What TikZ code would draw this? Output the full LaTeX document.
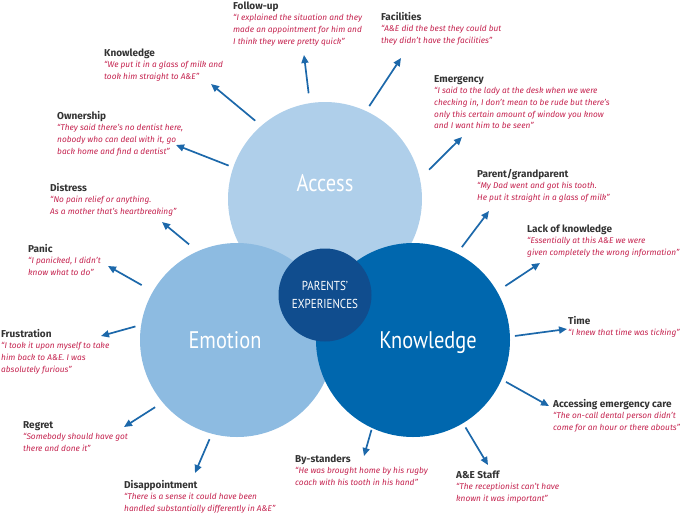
\documentclass[tikz,border=0pt]{standalone}
\usepackage{fontspec}
\setmainfont{Fira Sans}
\newfontfamily\condfont[FakeStretch=0.85]{PT Sans}
\usepackage{xcolor}
\usetikzlibrary{arrows.meta}
\definecolor{accblue}{RGB}{175,207,234}
\definecolor{emoblue}{RGB}{141,187,225}
\definecolor{knoblue}{RGB}{0,103,174}
\definecolor{coreblue}{RGB}{16,77,142}
\definecolor{arrowblue}{RGB}{28,104,170}
\definecolor{ttlgray}{RGB}{51,51,51}
\definecolor{qtred}{RGB}{196,34,78}
\newcommand{\quotetitle}[1]{{\upshape\bfseries\fontsize{10}{11.6}\selectfont\color{ttlgray}\rule{0pt}{8pt}#1}}

\begin{document}
\begin{tikzpicture}[x=1pt, y=-1pt,
  main/.style = {circle, minimum size=194pt, inner sep=0, outer sep=0},
  big/.style = {anchor=base, text=white, font=\condfont\fontsize{24}{26}\selectfont},
  core/.style = {circle, fill=coreblue, minimum size=93pt, inner sep=0, outer sep=0, text=white, align=center, font=\condfont\fontsize{13}{18}\selectfont},
  quote/.style = {anchor=north west, align=left, inner sep=0, text=qtred, font=\itshape\fontsize{8.3}{11.6}\selectfont},
  arr/.style = {arrowblue, line width=1.7pt, -{Triangle[length=8pt,width=7pt]}}]
\useasboundingbox (0,0) rectangle (685,523);
\node[main, fill=accblue] (acc) at (325,199) {};
\node[main, fill=emoblue] (emo) at (237,340) {};
\node[main, fill=knoblue] (kno) at (413,340) {};
\node[core] (exp) at (325,295) {PARENTS’\\EXPERIENCES};
\node[big] (accT) at (325,191) {Access};
\node[big] (emoT) at (225,348) {Emotion};
\node[big] (knoT) at (428,348) {Knowledge};

\node[quote] (fu) at (233,1) {\quotetitle{Follow-up}\\“I explained the situation and they\\made an appointment for him and\\I think they were pretty quick”};
\node[quote] (fac) at (381,12) {\quotetitle{Facilities}\\“A\&E did the best they could but\\they didn’t have the facilities”};
\node[quote] (kn) at (104,48) {\quotetitle{Knowledge}\\“We put it in a glass of milk and\\took him straight to A\&E”};
\node[quote] (own) at (57,111) {\quotetitle{Ownership}\\“They said there’s no dentist here,\\nobody who can deal with it, go\\back home and find a dentist”};
\node[quote] (emer) at (434,74) {\quotetitle{Emergency}\\“I said to the lady at the desk when we were\\checking in, I don’t mean to be rude but there’s\\only this certain amount of window you know\\and I want him to be seen”};
\node[quote] (dis) at (50,183) {\quotetitle{Distress}\\“No pain relief or anything.\\As a mother that’s heartbreaking”};
\node[quote] (par) at (477,169) {\quotetitle{Parent/grandparent}\\“My Dad went and got his tooth.\\He put it straight in a glass of milk”};
\node[quote] (pan) at (28,244) {\quotetitle{Panic}\\“I panicked, I didn’t\\know what to do”};
\node[quote] (lack) at (527,224) {\quotetitle{Lack of knowledge}\\“Essentially at this A\&E we were\\given completely the wrong information”};
\node[quote] (frus) at (1,329) {\quotetitle{Frustration}\\“I took it upon myself to take\\him back to A\&E. I was\\absolutely furious”};
\node[quote] (time) at (568,316) {\quotetitle{Time}\\“I knew that time was ticking”};
\node[quote] (reg) at (23,420) {\quotetitle{Regret}\\“Somebody should have got\\there and done it”};
\node[quote] (acce) at (553,399) {\quotetitle{Accessing emergency care}\\“The on-call dental person didn’t\\come for an hour or there abouts”};
\node[quote] (by) at (295,454) {\quotetitle{By-standers}\\“He was brought home by his rugby\\coach with his tooth in his hand”};
\node[quote] (staff) at (456,470) {\quotetitle{A\&E Staff}\\“The receptionist can’t have\\known it was important”};
\node[quote] (disap) at (124,480) {\quotetitle{Disappointment}\\“There is a sense it could have been\\handled substantially differently in A\&E”};

\coordinate (hfu) at (304,55);
\coordinate (hfac) at (401,58);
\coordinate (hkn) at (211,84);
\coordinate (hown) at (176,145);
\coordinate (hemer) at (462,137);
\coordinate (hdis) at (162,222);
\coordinate (hpar) at (489,211);
\coordinate (hpan) at (108,266);
\coordinate (hlack) at (540,263);
\coordinate (hfrus) at (101,336);
\coordinate (htime) at (567,329);
\coordinate (hreg) at (124,427);
\coordinate (hacce) at (549,406);
\coordinate (hby) at (364,456);
\coordinate (hstaff) at (488,465);
\coordinate (hdisap) at (195,473);

\draw[arr, shorten <=10pt] (acc.99) -- (hfu);
\draw[arr, shorten <=6pt] (acc.65) -- (hfac);
\draw[arr, shorten <=8pt] (acc.131) -- (hkn);
\draw[arr, shorten <=5pt] (acc.161) -- (hown);
\draw[arr, shorten <=13pt] (acc.12) -- (hemer);
\draw[arr, shorten <=11pt] (emo.114) -- (hdis);
\draw[arr, shorten <=13pt] (emo.150) -- (hpan);
\draw[arr, shorten <=6pt] (emo.171) -- (hfrus);
\draw[arr, shorten <=9pt] (emo.220) -- (hreg);
\draw[arr, shorten <=6pt] (emo.255) -- (hdisap);
\draw[arr, shorten <=8pt] (kno.63) -- (hpar);
\draw[arr, shorten <=10pt] (kno.30) -- (hlack);
\draw[arr, shorten <=5pt] (kno.2) -- (htime);
\draw[arr, shorten <=5pt] (kno.-24) -- (hacce);
\draw[arr, shorten <=5pt] (kno.-59) -- (hstaff);
\draw[arr, shorten <=2pt] (kno.-115) -- (hby);
\end{tikzpicture}
\end{document}
